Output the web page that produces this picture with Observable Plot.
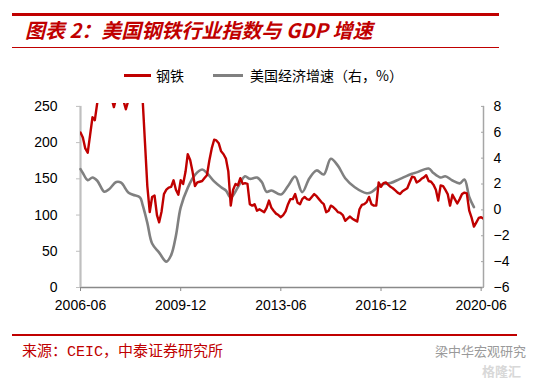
<!DOCTYPE html>
<html><head><meta charset="utf-8">
<script src="https://cdn.jsdelivr.net/npm/d3@7"></script>
<script src="https://cdn.jsdelivr.net/npm/@observablehq/plot@0.6"></script>
<style>
body{margin:0;width:542px;height:379px;position:relative;background:#fff;overflow:hidden;font-family:"Liberation Sans",Arial,sans-serif}
#top{position:absolute;left:0;top:0;width:542px;height:90px}
.rule{position:absolute;background:#C00000}
#title{position:absolute;left:25px;top:18px;font:italic bold 20px "Noto Sans CJK SC";color:#C00000;white-space:nowrap;line-height:24px}
.lg{position:absolute;top:66px;font:14px "Noto Sans CJK SC";color:#000;white-space:nowrap;line-height:18px}
.sw{position:absolute;top:74px;height:3px}
#chart{position:absolute;left:0;top:90px}
#foot{position:absolute;left:0;top:330px;width:542px;height:49px}
#src{position:absolute;left:22px;top:14px;font:15px "Liberation Mono","Noto Sans CJK SC";color:#C00000;white-space:nowrap;line-height:18px}
#wm{position:absolute;left:435px;top:13px;font:13px "Noto Sans CJK SC";color:#9a9a9a;white-space:nowrap;line-height:15px}
#wm2{position:absolute;left:482px;top:34px;font:bold 13px "Noto Sans CJK SC";color:#d8d8d8;white-space:nowrap;line-height:14px}
</style></head>
<body>
<div id="top">
  <div class="rule" style="left:12px;top:13px;width:487px;height:3px"></div>
  <div id="title">图表 2：美国钢铁行业指数与 GDP 增速</div>
  <div class="rule" style="left:12px;top:47px;width:487px;height:1px"></div>
  <div class="sw" style="left:124px;width:27px;background:#C00000"></div>
  <div class="lg" style="left:156px">钢铁</div>
  <div class="sw" style="left:213px;width:30px;background:#808080"></div>
  <div class="lg" style="left:250px">美国经济增速（右，%）</div>
</div>
<div id="chart"></div>
<div id="foot">
  <div class="rule" style="left:12px;top:4px;width:505px;height:1.5px"></div>
  <div id="src">来源：CEIC，中泰证券研究所</div>
  <div id="wm">梁中华宏观研究</div>
  <div id="wm2">格隆汇</div>
</div>
<script>
// Steel industry index, monthly from 2006-06
const steelStart = "2006-06";
const steelValues = [214,207,192,186,210,235,231,255,270,290,300,290,275,262,249,262,280,270,258,246,
258,275,290,300,290,275,262,200,140,104,125,127,100,90,105,129,135,138,139,148,
135,128,148,143,160,184,176,160,140,145,146,147,151,155,175,192,204,203,199,188,
184,178,160,113,135,143,141,151,143,144,143,115,113,115,106,108,106,104,110,120,
110,106,102,100,97,100,105,115,122,122,129,117,115,122,125,122,121,125,129,126,
122,118,115,104,106,113,111,108,104,103,100,92,95,98,95,93,91,108,114,115,
118,125,115,113,113,145,139,144,145,142,139,137,134,131,129,133,135,137,145,153,
152,145,147,150,152,155,147,146,142,135,120,141,140,135,129,113,128,122,116,122,
129,131,130,106,96,84,90,96,97,95];
// US GDP growth (right axis, %)
const gdpDates = ["2006-06","2006-07","2006-09","2006-11","2007-01","2007-04","2007-06","2007-09","2007-11","2008-02",
"2008-04","2008-07","2008-08","2008-10","2008-12","2009-03","2009-06","2009-08","2009-10","2009-12",
"2010-03","2010-06","2010-09","2010-11","2011-02","2011-05","2011-07","2011-09","2011-12","2012-03",
"2012-05","2012-08","2012-10","2012-12","2013-02","2013-06","2013-09","2013-12","2014-03","2014-06",
"2014-09","2014-12","2015-03","2015-06","2015-09","2016-01","2016-06","2016-08","2016-12","2017-04",
"2017-08","2018-01","2018-03","2018-08","2018-10","2019-01","2019-03","2019-06","2019-09","2019-11",
"2020-01","2020-03"];
const gdpValues = [3.15,2.85,2.3,2.5,2.25,1.4,1.6,2.15,2.1,1.35,
1.17,0.95,0.4,-1.0,-2.6,-3.3,-4.0,-3.5,-2.0,0.2,
1.7,2.7,3.12,2.85,2.2,1.75,1.5,0.95,1.75,2.6,
2.4,2.5,2.15,1.4,1.5,1.19,1.85,2.58,1.37,2.45,
3.05,2.74,3.95,3.4,2.45,1.75,1.29,1.37,1.94,2.07,
2.4,2.8,2.9,3.2,2.85,2.5,2.6,2.27,2.05,2.35,
1.0,0.21];
const leftTicks = [0,50,100,150,200,250];
const rightTicks = [-6,-4,-2,0,2,4,6,8];
const xTickLabels = ["2006-06","2009-12","2013-06","2016-12","2020-06"];
const xDomainLabels = ["2006-06","2020-07"];

const parse = d3.utcParse("%Y-%m");
const fmt = d3.utcFormat("%Y-%m");
const start = parse(steelStart);
const steel = steelValues.map((v,i)=>({date:d3.utcMonth.offset(start,i), v}));
const gdp = gdpDates.map((d,i)=>({date:parse(d), g:gdpValues[i]}));
const rMin = -6, rMax = 8, lMax = 250;
const toLeft = g => (g - rMin) / (rMax - rMin) * lMax;
const fromLeft = y => y / lMax * (rMax - rMin) + rMin;
const xDomain = xDomainLabels.map(parse);

const chart = Plot.plot({
  width: 542, height: 240,
  marginLeft: 80, marginRight: 59, marginTop: 13, marginBottom: 43,
  style: {fontFamily: "Liberation Sans, Arial, sans-serif", fontSize: "14px", color: "#000", background: "transparent"},
  x: {type: "utc", domain: xDomain},
  y: {domain: [0, 254]},
  marks: [
    Plot.ruleY([0], {stroke: "#898989", strokeWidth: 1.5}),
    Plot.ruleX([xDomain[0]], {y1: 0, y2: lMax, stroke: "#BFBFBF", strokeWidth: 2.2}),
    Plot.ruleX([xDomain[1]], {y1: 0, y2: lMax, stroke: "#A6A6A6", strokeWidth: 1.5}),
    Plot.line(gdp, {x: "date", y: d => toLeft(d.g), stroke: "#808080", strokeWidth: 2.6, curve: "catmull-rom"}),
    Plot.line(steel, {x: "date", y: "v", stroke: "#C00000", strokeWidth: 2.4, clip: true}),
    Plot.axisY(leftTicks, {anchor: "left", tickSize: 4, tickPadding: 19, stroke: "#BFBFBF", fill: "#000", label: null}),
    Plot.axisY(rightTicks.map(toLeft), {anchor: "right", tickSize: -3, tickPadding: 13, stroke: "#A6A6A6", fill: "#000", textAnchor: "start",
      tickFormat: d => { const v = Math.round(fromLeft(d)); return v < 0 ? "\u2212" + (-v) : String(v); }, label: null}),
    Plot.axisX(xTickLabels.map(parse), {anchor: "bottom", tickSize: 4, tickPadding: 9, stroke: "#898989", fill: "#000", tickFormat: fmt, label: null})
  ]
});
document.getElementById("chart").appendChild(chart);
</script>
</body></html>
